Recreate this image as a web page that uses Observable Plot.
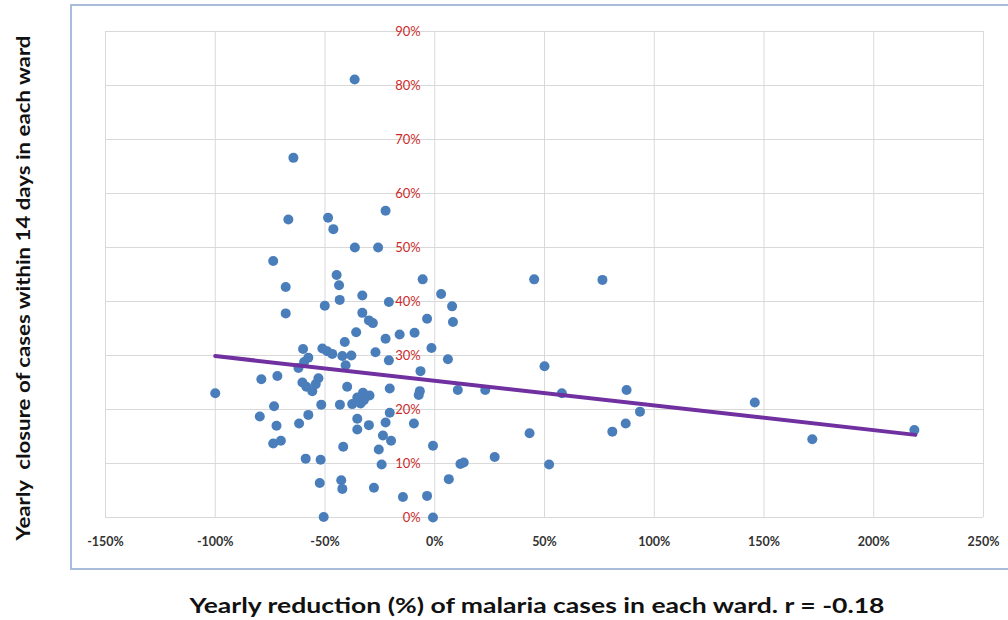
<!DOCTYPE html>
<html>
<head>
<meta charset="utf-8">
<script src="https://cdn.jsdelivr.net/npm/d3@7"></script>
<script src="https://cdn.jsdelivr.net/npm/@observablehq/plot@0.6"></script>
<style>
  html, body { margin: 0; padding: 0; background: #fff; }
  #wrap { position: relative; width: 1008px; height: 620px; overflow: hidden; font-family: Lato, "Open Sans", sans-serif; }
  #box { position: absolute; left: 70px; top: 4px; width: 950px; height: 566px; border: 2px solid #a9bddb; box-sizing: border-box; }
  .title { position: absolute; white-space: pre; font-weight: 700; color: #111; line-height: 1; }
  #ytitle { left: 22px; top: 288px; font-size: 19px; }
  #xtitle { left: 537px; top: 605px; font-size: 20px; }
  #chart { position: absolute; left: 0; top: 0; }
</style>
</head>
<body>
<div id="wrap">
  <div id="box"></div>
  <div id="chart"></div>
  <div id="ytitle" class="title"></div>
  <div id="xtitle" class="title"></div>
</div>
<script>
// Yearly reduction (%) of malaria cases per ward
const reduction = [
  -73.6, -67.9, -67.9, -100, -79.0, -71.7, -73.2, -79.7, -72.1, -73.6,
  -70.1, -60.0, -57.6, -62.1, -59.5, -60.3, -58.5, -55.8, -53.0, -54.2,
  -51.7, -57.6, -61.8, -58.8, -52.0, -52.4, -50.6, -50.1, -51.2, -49.0,
  -46.7, -44.7, -43.6, -43.3, -41.0, -42.1, -38.0, -40.6, -39.9, -43.2,
  -41.7, -42.6, -42.1, -36.4, -25.8, -33.0, -35.8, -33.0, -30.0, -28.2,
  -32.7, -29.7, -35.3, -37.6, -33.8, -32.3, -35.3, -35.3, -30.0, -25.5,
  -27.7, -27.0, -22.4, -20.9, -16.0, -9.2, -20.9, -20.5, -22.4, -20.5,
  -23.6, -19.9, -24.2, -14.5, -9.5, -6.5, -6.8, -7.3, -5.5, -3.5,
  -1.5, -0.8, -3.5, -0.8, 2.9, 6.0, 7.9, 8.3, 6.4, 10.5,
  23.0, 45.3, 76.4, 50.0, 57.9, 87.4, 93.5, 87.0, 80.9, 43.2,
  11.7, 13.2, 27.3, 52.1, 145.8, 172.0, 218.5, -36.5, -64.4, -66.7,
  -48.6, -46.2, -22.4
];
// Yearly closure of cases within 14 days (%) per ward
const closure = [
  47.5, 42.7, 37.8, 23.0, 25.6, 26.2, 20.6, 18.7, 17.0, 13.7,
  14.2, 31.2, 29.6, 27.7, 28.8, 25.0, 24.2, 23.4, 25.8, 24.7,
  20.9, 19.0, 17.4, 10.9, 10.7, 6.4, 0.1, 39.2, 31.3, 30.8,
  30.3, 44.9, 43.0, 40.3, 32.5, 29.9, 30.0, 28.2, 24.2, 20.9,
  13.1, 6.9, 5.3, 50.0, 50.0, 41.1, 34.3, 37.9, 36.5, 36.0,
  23.1, 22.6, 22.2, 21.0, 21.1, 21.7, 18.3, 16.3, 17.1, 12.6,
  5.5, 30.6, 33.1, 29.1, 33.9, 34.2, 39.9, 23.9, 17.6, 19.4,
  15.2, 14.2, 9.8, 3.8, 17.4, 27.1, 23.4, 22.7, 44.1, 36.8,
  31.4, 13.3, 4.0, 0.0, 41.4, 29.3, 39.1, 36.2, 7.1, 23.6,
  23.6, 44.1, 44.0, 28.0, 23.0, 23.6, 19.6, 17.4, 15.9, 15.6,
  9.9, 10.2, 11.2, 9.8, 21.3, 14.5, 16.2, 81.1, 66.6, 55.2,
  55.5, 53.4, 56.8
];
// Trend line endpoints (as drawn in the reference)
const trendX = [-100, 219];
const trendY = [29.9, 15.3];

const xTicks = [-150, -100, -50, 0, 50, 100, 150, 200, 250];
const yTicks = [0, 10, 20, 30, 40, 50, 60, 70, 80, 90];

const xTitle = "Yearly reduction (%) of malaria cases in each ward. r = -0.18";
const yTitle = "Yearly  closure of cases within 14 days in each ward";

const points = reduction.map((r, i) => ({x: r, y: closure[i]}));
const trend = trendX.map((t, i) => ({x: t, y: trendY[i]}));

const chart = Plot.plot({
  width: 1008,
  height: 620,
  marginLeft: 105,
  marginRight: 25,
  marginTop: 31,
  marginBottom: 103,
  style: {fontFamily: "Lato, 'Open Sans', sans-serif", background: "transparent"},
  x: {domain: [-150, 250]},
  y: {domain: [0, 90], axis: null},
  marks: [
    Plot.gridX(xTicks, {stroke: "#d9d9d9", strokeOpacity: 1, strokeWidth: 1}),
    Plot.gridY(yTicks, {stroke: "#d9d9d9", strokeOpacity: 1, strokeWidth: 1}),
    Plot.axisX(xTicks, {
      tickSize: 0, tickPadding: 20,
      tickFormat: d => `${d}%`,
      fontSize: 12.5, fontWeight: 700, fill: "#333", label: null
    }),
    Plot.text(yTicks, {
      x: () => 0, y: d => d, text: d => `${d}%`,
      textAnchor: "end", dx: -14, fill: "#cc2a2a", fontSize: 13
    }),
    Plot.dot(points, {x: "x", y: "y", r: 5, fill: "#4a7ebb", stroke: null}),
    Plot.line(trend, {x: "x", y: "y", stroke: "#7030a0", strokeWidth: 4, strokeLinecap: "round"})
  ]
});
document.getElementById("chart").appendChild(chart);

// Titles: stretched horizontally to the reference's text length, keeping glyph height
function placeTitle(id, text, targetLen, rotate) {
  const el = document.getElementById(id);
  el.textContent = text;
  const w = el.getBoundingClientRect().width;
  const s = targetLen / w;
  el.style.transform = `translate(-50%, -50%) ${rotate ? "rotate(-90deg) " : ""}scaleX(${s})`;
}
placeTitle("xtitle", xTitle, 695, false);
placeTitle("ytitle", yTitle, 505, true);
</script>
</body>
</html>
